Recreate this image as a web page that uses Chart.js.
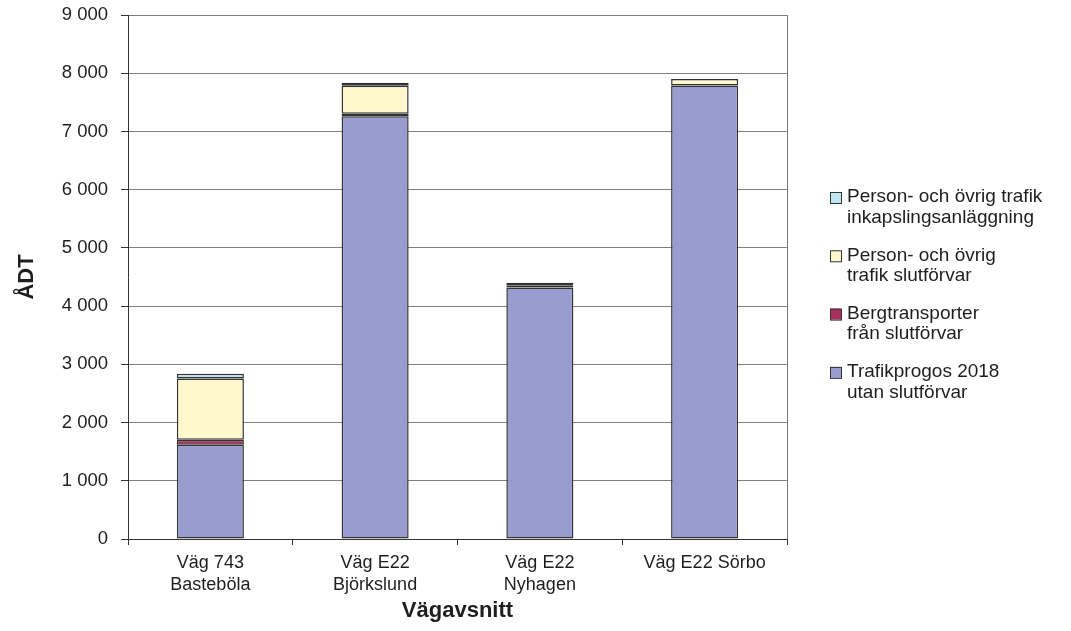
<!DOCTYPE html>
<html lang="sv">
<head>
<meta charset="utf-8">
<title>ÅDT per vägavsnitt</title>
<script src="https://cdn.jsdelivr.net/npm/chart.js@4/dist/chart.umd.min.js"></script>
<style>
  html, body { margin: 0; padding: 0; background: #fff; }
  #wrap { width: 1071px; height: 631px; }
</style>
</head>
<body>
<div id="wrap"><canvas id="c" width="1071" height="631"></canvas></div>
<script>
// Road sections (two-line labels where the axis wraps them)
const categories = [
  ['Väg 743', 'Basteböla'],
  ['Väg E22', 'Björkslund'],
  ['Väg E22', 'Nyhagen'],
  'Väg E22 Sörbo'
];

// Annual average daily traffic (ÅDT), stacked from the bottom up
const trafikprognos = [1620, 7260, 4320, 7790];
const bergtransporter = [85, 45, 30, 0];
const trafikSlutforvar = [1050, 480, 50, 110];
const trafikInkapsling = [85, 50, 0, 0];

const seriesLabels = [
  ['Trafikprogos 2018', 'utan slutförvar'],
  ['Bergtransporter', 'från slutförvar'],
  ['Person- och övrig', 'trafik slutförvar'],
  ['Person- och övrig trafik', 'inkapslingsanläggning']
];

const yMax = 9000;
const yStep = 1000;

const FONT = "'Liberation Sans', Arial, sans-serif";
const colors = ['#999CCF', '#A8305E', '#FFF8CF', '#BFE5EE'];

const spaced = v => String(v).replace(/\B(?=(\d{3})+(?!\d))/g, ' ');

// Frame line on the right edge of the plot area
const frame = {
  id: 'frame',
  afterDatasetsDraw(chart) {
    const { ctx, chartArea: a } = chart;
    ctx.save();
    ctx.strokeStyle = '#7a7a7a';
    ctx.lineWidth = 1;
    ctx.beginPath();
    ctx.moveTo(Math.round(a.right) + 0.5, a.top);
    ctx.lineTo(Math.round(a.right) + 0.5, a.bottom);
    ctx.stroke();
    ctx.restore();
  }
};

// Legend at the right, top series first, with wrapped labels
const sideLegend = {
  id: 'sideLegend',
  afterDraw(chart) {
    const { ctx } = chart;
    const ds = chart.data.datasets;
    ctx.save();
    ctx.font = '19px ' + FONT;
    ctx.textBaseline = 'middle';
    ctx.textAlign = 'left';
    const x0 = 830, tx = 847, y0 = 197, gap = 58.3, lh = 20.5;
    for (let i = ds.length - 1, k = 0; i >= 0; i--, k++) {
      const y = y0 + k * gap;
      ctx.fillStyle = ds[i].backgroundColor;
      ctx.fillRect(x0, y - 5, 11, 11);
      ctx.strokeStyle = '#333';
      ctx.lineWidth = 1;
      ctx.strokeRect(x0 + 0.5, y - 4.5, 11, 11);
      ctx.fillStyle = '#1e1e1e';
      ds[i].label.forEach((line, j) => ctx.fillText(line, tx, y + j * lh));
    }
    ctx.restore();
  }
};

const datasetValues = [trafikprognos, bergtransporter, trafikSlutforvar, trafikInkapsling];

new Chart(document.getElementById('c'), {
  type: 'bar',
  data: {
    labels: categories,
    datasets: datasetValues.map((vals, i) => ({
      label: seriesLabels[i],
      // empty segments are left out so they draw no outline
      data: vals.map(v => (v === 0 ? null : v)),
      backgroundColor: colors[i],
      borderColor: '#333',
      borderWidth: 1.5,
      borderSkipped: false,
      barPercentage: 0.407,
      categoryPercentage: 1
    }))
  },
  options: {
    responsive: false,
    animation: false,
    devicePixelRatio: 1,
    layout: { padding: { left: 0, top: 15, right: 284, bottom: 0 } },
    plugins: { legend: { display: false }, tooltip: { enabled: false } },
    scales: {
      x: {
        stacked: true,
        offset: true,
        grid: { display: true, drawOnChartArea: false, drawTicks: true, tickLength: 6, tickColor: '#333', offset: true },
        border: { color: '#333', width: 1 },
        ticks: { font: { family: FONT, size: 18, lineHeight: 1.22 }, color: '#1e1e1e', padding: 7, maxRotation: 0, autoSkip: false },
        title: { display: true, text: 'Vägavsnitt', font: { family: FONT, size: 22, weight: 'bold' }, color: '#1e1e1e', padding: { top: 0, bottom: 7 } },
        afterFit(s) { s.height = 92; s.paddingLeft = 0; s.paddingRight = 0; }
      },
      y: {
        stacked: true,
        min: 0,
        max: yMax,
        grid: { color: '#808080', lineWidth: 1, tickLength: 7, tickColor: '#333' },
        border: { color: '#333', width: 1 },
        ticks: { stepSize: yStep, font: { family: FONT, size: 18.5 }, color: '#1e1e1e', padding: 13, callback: v => spaced(v) },
        title: { display: true, text: 'ÅDT', font: { family: FONT, size: 22, weight: 'bold' }, color: '#1e1e1e', padding: { top: 14, bottom: 0 } },
        afterFit(s) { s.width = 128; s.paddingTop = 0; s.paddingBottom = 0; }
      }
    }
  },
  plugins: [frame, sideLegend]
});
</script>
</body>
</html>
